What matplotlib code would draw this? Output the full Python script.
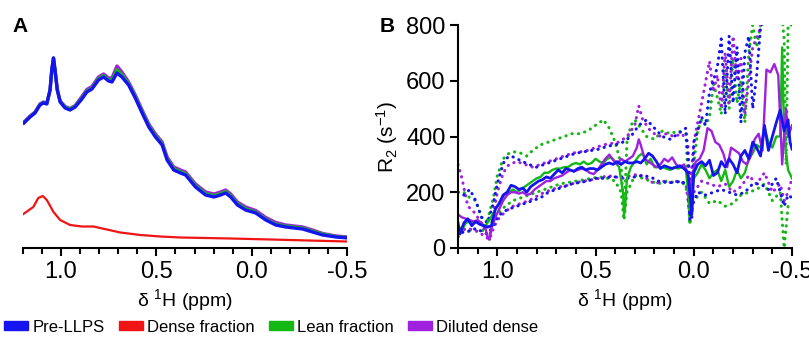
import matplotlib
matplotlib.use("Agg")
import matplotlib.pyplot as plt
from matplotlib.patches import Patch
from matplotlib.ticker import MultipleLocator

plt.rcParams['font.family'] = ['Liberation Sans', 'DejaVu Sans']
plt.rcParams['mathtext.fontset'] = 'custom'
plt.rcParams['mathtext.rm'] = 'Liberation Sans'
plt.rcParams['mathtext.it'] = 'Liberation Sans:italic'

# ---- panel A: 1D spectra (arbitrary intensity) ----
specA_ppm = [1.195, 1.163, 1.137, 1.111, 1.093, 1.075, 1.058, 1.049, 1.04, 1.032, 1.02,
             1.005, 0.979, 0.953, 0.926, 0.891, 0.865, 0.838, 0.804, 0.777, 0.751, 0.733,
             0.707, 0.681, 0.646, 0.611, 0.575, 0.54, 0.505, 0.47, 0.444, 0.409, 0.374,
             0.347, 0.295, 0.242, 0.198, 0.163, 0.137, 0.11, 0.075, 0.032, -0.021, -0.074,
             -0.126, -0.179, -0.267, -0.319, -0.372, -0.442, -0.504]
pre_llps = [125, 131, 135, 143, 145, 144, 158, 178, 190, 178, 158,
            146, 140, 138, 141, 149, 156, 159, 168, 171, 167, 166,
            175, 171, 163, 150, 135, 121, 111, 103, 88, 78, 75,
            73, 61, 53, 51, 53, 55, 51, 43, 38, 35, 28,
            23, 21, 19, 16, 13, 11, 10]
lean = [125.5, 131.5, 135.5, 143.5, 145.5, 144.5, 158, 178, 190, 178, 158,
        146.5, 141, 139, 142, 150, 157, 160, 169.5, 172.5, 168.5, 168,
        178.5, 173.5, 164.5, 151.5, 136.5, 122.5, 112.5, 104.5, 89.5, 79.5, 76.5,
        74.5, 62.5, 54.5, 52.5, 54.5, 56.5, 52.5, 44.5, 39.5, 36, 29,
        24, 22, 20, 17, 14, 11.5, 10.5]
diluted = [126, 132, 136, 144, 146, 145, 158, 178, 190, 178, 158,
           147, 141.5, 139.5, 142.5, 151.5, 158.5, 161.5, 171, 174, 170, 170,
           182, 176, 166, 153, 138, 124, 114, 106, 91, 81, 78,
           76, 64, 56, 54, 56, 58, 54, 46, 41, 37.5, 30.5,
           25.5, 23, 21, 18, 14.5, 12, 11]
dense_ppm = [1.198, 1.146, 1.12, 1.096, 1.075, 1.04, 1.005, 0.953, 0.891, 0.83, 0.76,
             0.689, 0.584, 0.479, 0.374, 0.11, -0.1, -0.3, -0.5]
dense = [34, 41, 50, 52, 48, 36, 28, 23, 21.5, 21.5, 18.5,
         15.5, 13, 11.5, 10.5, 9.5, 8.5, 7.5, 6.5]

# ---- panel B: R2 per point ----
blue_ppm = [1.20, 1.19, 1.17, 1.15, 1.13, 1.11, 1.09, 1.07, 1.05, 1.03, 1.01, 0.99, 0.97,
            0.95, 0.93, 0.91, 0.89, 0.87, 0.85, 0.83, 0.81, 0.79, 0.77, 0.75, 0.73, 0.71,
            0.69, 0.67, 0.65, 0.63, 0.61, 0.59, 0.57, 0.55, 0.53, 0.51, 0.49, 0.47, 0.45,
            0.43, 0.41, 0.39, 0.37, 0.35, 0.33, 0.31, 0.29, 0.27, 0.25, 0.23, 0.21, 0.19,
            0.17, 0.15, 0.13, 0.11, 0.09, 0.07, 0.05, 0.03, 0.02, 0.01, 0.00, -0.02, -0.04,
            -0.06, -0.08, -0.10, -0.12, -0.14, -0.16, -0.18, -0.20, -0.22, -0.24, -0.26,
            -0.28, -0.30, -0.32, -0.34, -0.36, -0.38, -0.40, -0.42, -0.44, -0.46, -0.48,
            -0.49, -0.50]
blue_r2 = [90, 50, 90, 105, 80, 95, 85, 80, 75, 80, 140, 160, 190,
           200, 225, 220, 210, 215, 200, 220, 230, 240, 245, 255, 250, 265,
           280, 270, 285, 280, 275, 285, 290, 280, 285, 285, 280, 290, 300,
           305, 300, 310, 300, 310, 305, 305, 310, 305, 320, 340, 330, 310,
           285, 295, 290, 285, 290, 295, 285, 270, 200, 120, 270, 300, 310,
           295, 315, 260, 270, 310, 290, 320, 300, 270, 330, 350,
           320, 380, 360, 330, 440, 350, 400, 450, 495, 420, 460,
           380, 355]

green_ppm = [1.20, 1.18, 1.16, 1.14, 1.12, 1.10, 1.08, 1.06, 1.04, 1.02, 1.00, 0.98, 0.96,
             0.94, 0.92, 0.90, 0.88, 0.86, 0.84, 0.82, 0.80, 0.78, 0.76, 0.74, 0.72, 0.70,
             0.68, 0.66, 0.64, 0.62, 0.60, 0.58, 0.56, 0.54, 0.52, 0.50, 0.48, 0.46, 0.44,
             0.42, 0.40, 0.38, 0.36, 0.355, 0.35, 0.34, 0.32, 0.30, 0.28, 0.26, 0.24, 0.22,
             0.20, 0.18, 0.16, 0.14, 0.12, 0.10, 0.08, 0.06, 0.04, 0.02, 0.00, -0.02, -0.04,
             -0.06, -0.08, -0.10, -0.12, -0.14, -0.16, -0.18, -0.20, -0.22, -0.24, -0.26,
             -0.28, -0.30, -0.32, -0.34, -0.36, -0.38, -0.40, -0.42, -0.44, -0.45, -0.46,
             -0.48, -0.50]
green_r2 = [80, 65, 90, 95, 90, 95, 85, 80, 100, 125, 150, 175, 195,
            200, 210, 200, 210, 220, 230, 240, 250, 255, 270, 270, 280, 285,
            285, 290, 290, 300, 305, 300, 310, 300, 305, 320, 310, 305, 320,
            325, 310, 290, 200, 130, 140, 250, 290, 310, 330, 340, 300, 320,
            290, 290, 290, 285, 280, 290, 285, 290, 280, 140, 250, 270, 300,
            280, 250, 270, 280, 240, 280, 220, 240, 280, 250, 270,
            320, 340, 370, 360, 430, 380, 360, 400, 400, 720, 400,
            280, 250]

purple_ppm = [1.20, 1.18, 1.16, 1.14, 1.12, 1.10, 1.08, 1.06, 1.05, 1.04, 1.03, 1.01, 0.99,
              0.97, 0.95, 0.93, 0.91, 0.89, 0.87, 0.85, 0.83, 0.81, 0.79, 0.77, 0.75, 0.73,
              0.71, 0.69, 0.67, 0.65, 0.63, 0.61, 0.59, 0.57, 0.55, 0.53, 0.51, 0.49, 0.47,
              0.45, 0.43, 0.41, 0.39, 0.37, 0.35, 0.33, 0.31, 0.29, 0.28, 0.27, 0.25, 0.23,
              0.21, 0.19, 0.17, 0.15, 0.13, 0.11, 0.09, 0.07, 0.05, 0.03, 0.02, 0.01, -0.01,
              -0.03, -0.05, -0.07, -0.09, -0.11, -0.13, -0.15, -0.17, -0.19, -0.21, -0.23,
              -0.25, -0.27, -0.29, -0.31, -0.33, -0.35, -0.37, -0.39, -0.41, -0.43, -0.45,
              -0.47, -0.48, -0.49, -0.50]
purple_r2 = [120, 110, 105, 100, 95, 100, 90, 70, 40, 35, 70, 110, 140,
             170, 190, 200, 200, 195, 200, 190, 195, 210, 220, 230, 240, 240,
             250, 255, 260, 270, 280, 275, 280, 285, 280, 270, 265, 280, 300,
             320, 335, 315, 300, 320, 310, 320, 330, 360, 390, 370, 320, 310,
             300, 290, 300, 320, 310, 325, 300, 290, 300, 270, 180, 250, 310,
             320, 350, 430, 420, 380, 370, 340, 290, 360, 350, 340,
             310, 300, 330, 390, 410, 350, 640, 630, 660, 620, 300,
             500, 400, 420, 440]

# dotted bounds
blue_up_ppm = [1.20, 1.17, 1.14, 1.11, 1.08, 1.05, 1.02, 1.00, 0.98, 0.96, 0.93, 0.90, 0.87,
               0.84, 0.80, 0.76, 0.72, 0.68, 0.64, 0.60, 0.56, 0.52, 0.48, 0.44, 0.40, 0.36,
               0.32, 0.28, 0.24, 0.20, 0.16, 0.12, 0.08, 0.04, 0.02, 0.01, 0.00, -0.02, -0.04,
               -0.06, -0.08, -0.10, -0.12, -0.14, -0.16, -0.18, -0.20, -0.22, -0.24, -0.26,
               -0.28, -0.30, -0.32, -0.34, -0.38, -0.42, -0.46, -0.50]
blue_up = [200, 190, 210, 170, 110, 90, 160, 230, 280, 320, 330, 320, 310,
           300, 290, 300, 310, 320, 330, 340, 345, 350, 355, 365, 370, 380,
           400, 440, 460, 430, 400, 390, 410, 430, 230, 110, 380, 420, 470,
           440, 560, 600, 650, 750, 480, 760, 520, 720, 450, 700,
           760, 500, 620, 790, 850, 900, 880, 900]
blue_lo_ppm = [1.20, 1.17, 1.14, 1.11, 1.08, 1.05, 1.02, 1.00, 0.97, 0.94, 0.90, 0.86, 0.82,
               0.78, 0.74, 0.70, 0.66, 0.62, 0.58, 0.54, 0.50, 0.46, 0.42, 0.38, 0.34, 0.30,
               0.26, 0.22, 0.18, 0.14, 0.10, 0.06, 0.03, 0.02, 0.01, -0.02, -0.06, -0.10,
               -0.14, -0.18, -0.22, -0.26, -0.30, -0.34, -0.38, -0.42, -0.44, -0.46, -0.48,
               -0.50]
blue_lo = [40, 60, 60, 70, 60, 50, 80, 110, 130, 140, 150, 160, 170,
           180, 200, 210, 220, 230, 235, 240, 250, 250, 255, 255, 250, 255,
           260, 255, 240, 235, 235, 240, 220, 100, 150, 200, 190, 200,
           210, 200, 190, 200, 230, 230, 210, 250, 200, 150, 190,
           180]

green_up_ppm = [1.20, 1.17, 1.14, 1.11, 1.08, 1.05, 1.02, 1.00, 0.97, 0.94, 0.91, 0.88, 0.85,
                0.82, 0.78, 0.74, 0.70, 0.66, 0.62, 0.58, 0.54, 0.50, 0.46, 0.43, 0.40, 0.37,
                0.355, 0.34, 0.32, 0.30, 0.28, 0.26, 0.24, 0.20, 0.16, 0.12, 0.08, 0.04, 0.02,
                0.00, -0.02, -0.04, -0.06, -0.08, -0.10, -0.12, -0.14, -0.16, -0.18, -0.20,
                -0.22, -0.24, -0.26, -0.28, -0.30, -0.32, -0.34, -0.36, -0.40, -0.44, -0.46,
                -0.47, -0.48, -0.50]
green_up = [200, 200, 180, 170, 110, 100, 180, 260, 320, 340, 345, 340, 330,
            350, 370, 380, 390, 400, 410, 410, 420, 440, 460, 430, 380, 300,
            110, 380, 440, 460, 440, 420, 400, 390, 420, 410, 420, 410, 90,
            300, 420, 460, 440, 470, 590, 540, 480, 640, 500, 680,
            520, 600, 450, 700, 800, 720, 800, 900, 900, 900, 750,
            300, 800, 800]
green_lo_ppm = [1.20, 1.16, 1.12, 1.08, 1.04, 1.00, 0.96, 0.92, 0.88, 0.84, 0.80, 0.76, 0.72,
                0.68, 0.64, 0.60, 0.56, 0.52, 0.48, 0.44, 0.40, 0.37, 0.355, 0.34, 0.30, 0.26,
                0.22, 0.18, 0.14, 0.10, 0.06, 0.03, 0.02, 0.00, -0.04, -0.08, -0.12, -0.16,
                -0.20, -0.24, -0.28, -0.32, -0.36, -0.40, -0.44, -0.46, -0.48, -0.50]
green_lo = [60, 70, 60, 60, 80, 120, 150, 170, 180, 190, 200, 210, 220,
            230, 235, 240, 245, 250, 255, 250, 240, 200, 100, 200, 260, 250,
            240, 230, 240, 235, 240, 200, 85, 170, 200, 160, 170, 150,
            160, 190, 200, 210, 230, 170, 200, 0, 150, 150]

purple_up_ppm = [1.20, 1.18, 1.15, 1.12, 1.09, 1.06, 1.04, 1.02, 1.00, 0.97, 0.94, 0.90, 0.86,
                 0.82, 0.78, 0.74, 0.70, 0.66, 0.62, 0.58, 0.54, 0.50, 0.46, 0.42, 0.38, 0.34,
                 0.30, 0.28, 0.26, 0.22, 0.18, 0.14, 0.10, 0.06, 0.03, 0.02, 0.00, -0.04,
                 -0.08, -0.10, -0.12, -0.14, -0.16, -0.18, -0.20, -0.22, -0.24, -0.26, -0.30,
                 -0.34, -0.38, -0.44, -0.50]
purple_up = [300, 250, 150, 130, 100, 60, 30, 120, 200, 270, 300, 310, 300,
             290, 300, 310, 320, 330, 340, 345, 350, 360, 370, 375, 380, 400,
             440, 510, 460, 420, 400, 410, 400, 410, 380, 200, 380, 520,
             670, 560, 620, 500, 700, 520, 760, 600, 680, 480, 720,
             790, 900, 900, 900]
purple_lo_ppm = [1.20, 1.15, 1.10, 1.06, 1.04, 1.02, 1.00, 0.96, 0.92, 0.88, 0.84, 0.80, 0.76,
                 0.72, 0.68, 0.64, 0.60, 0.56, 0.52, 0.48, 0.44, 0.40, 0.36, 0.32, 0.28, 0.24,
                 0.20, 0.16, 0.12, 0.08, 0.04, 0.02, 0.00, -0.04, -0.08, -0.12, -0.16, -0.20,
                 -0.24, -0.28, -0.32, -0.36, -0.40, -0.44, -0.46, -0.48, -0.50]
purple_lo = [60, 70, 60, 40, 30, 70, 100, 130, 150, 160, 170, 185, 200,
             210, 220, 225, 235, 240, 245, 250, 260, 255, 250, 260, 265, 250,
             230, 240, 235, 240, 230, 120, 200, 240, 230, 220, 230, 200,
             220, 260, 230, 270, 200, 230, 170, 200, 250]

legend_labels = ['Pre-LLPS', 'Dense fraction', 'Lean fraction', 'Diluted dense']

BLUE = '#1414f0'
RED = '#f01414'
GREEN = '#14b814'
PURPLE = '#a020e0'

fig = plt.figure(figsize=(8.09, 3.43), dpi=100)
axA = fig.add_axes([23 / 809, 95 / 343, 324 / 809, 223 / 343])
axB = fig.add_axes([458 / 809, 95 / 343, 334 / 809, 223 / 343])

# panel A
axA.plot(specA_ppm, diluted, color=PURPLE, lw=2.4)
axA.plot(specA_ppm, lean, color=GREEN, lw=2.2)
axA.plot(specA_ppm, pre_llps, color=BLUE, lw=2.4)
axA.plot(dense_ppm, dense, color=RED, lw=1.6)
axA.set_xlim(1.2, -0.5)
axA.set_ylim(0, 223)
for s in ['left', 'right', 'top']:
    axA.spines[s].set_visible(False)
axA.set_yticks([])

# panel B
dot = dict(ls=(0, (0.1, 2.0)), lw=2.2, dash_capstyle='round')
axB.plot(green_up_ppm, green_up, color=GREEN, **dot)
axB.plot(green_lo_ppm, green_lo, color=GREEN, **dot)
axB.plot(purple_up_ppm, purple_up, color=PURPLE, **dot)
axB.plot(purple_lo_ppm, purple_lo, color=PURPLE, **dot)
axB.plot(blue_up_ppm, blue_up, color=BLUE, **dot)
axB.plot(blue_lo_ppm, blue_lo, color=BLUE, **dot)
axB.plot(green_ppm, green_r2, color=GREEN, lw=1.7)
axB.plot(purple_ppm, purple_r2, color=PURPLE, lw=1.7)
axB.plot(blue_ppm, blue_r2, color=BLUE, lw=2.0)
axB.set_xlim(1.2, -0.5)
axB.set_ylim(0, 800)
axB.set_yticks([0, 200, 400, 600, 800])
for s in ['right', 'top']:
    axB.spines[s].set_visible(False)
axB.set_ylabel(r'R$_2$ (s$^{-1}$)', fontsize=15, labelpad=4)

for ax in (axA, axB):
    ax.xaxis.set_major_locator(MultipleLocator(0.5))
    ax.xaxis.set_minor_locator(MultipleLocator(0.1))
    ax.set_xticks([1.0, 0.5, 0.0, -0.5])
    ax.set_xticklabels(['1.0', '0.5', '0.0', '-0.5'])
    ax.tick_params(which='major', length=6, width=1.5, labelsize=17, pad=3)
    ax.tick_params(which='minor', length=4, width=1.5)
    for s in ax.spines.values():
        s.set_linewidth(1.5)
    ax.set_xlabel(r'δ $^1$H (ppm)', fontsize=14, labelpad=3)
    ax.patch.set_alpha(0)

fig.text(20 / 809, 1 - 26 / 343, 'A', fontsize=15, fontweight='bold', ha='center', va='center')
fig.text(387 / 809, 1 - 26 / 343, 'B', fontsize=15, fontweight='bold', ha='center', va='center')

handles = [Patch(color=c) for c in (BLUE, RED, GREEN, PURPLE)]
fig.legend(handles, legend_labels, loc='center left', bbox_to_anchor=(4 / 809, 16 / 343),
           ncol=4, frameon=False, handlelength=1.45, handleheight=0.5, handletextpad=0.25,
           columnspacing=0.85, borderpad=0, borderaxespad=0,
           prop={'size': 12})

fig.savefig('out.png', dpi=100)
